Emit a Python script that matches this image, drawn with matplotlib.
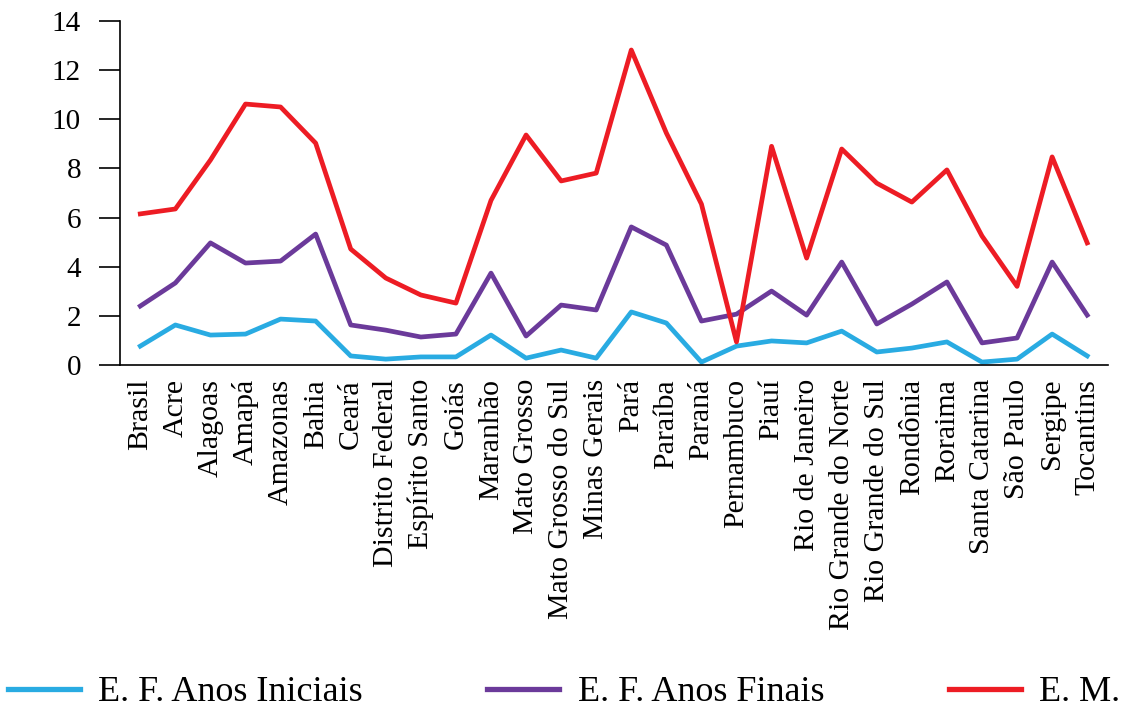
import matplotlib
matplotlib.use("Agg")
import matplotlib.pyplot as plt

plt.rcParams['font.family'] = ['Liberation Serif', 'DejaVu Serif']

estados = ['Brasil', 'Acre', 'Alagoas', 'Amapá', 'Amazonas', 'Bahia', 'Ceará',
           'Distrito Federal', 'Espírito Santo', 'Goiás', 'Maranhão', 'Mato Grosso',
           'Mato Grosso do Sul', 'Minas Gerais', 'Pará', 'Paraíba', 'Paraná',
           'Pernambuco', 'Piauí', 'Rio de Janeiro', 'Rio Grande do Norte',
           'Rio Grande do Sul', 'Rondônia', 'Roraima', 'Santa Catarina',
           'São Paulo', 'Sergipe', 'Tocantins']

anos_iniciais = [0.77, 1.63, 1.22, 1.26, 1.87, 1.79, 0.37, 0.24, 0.33, 0.33, 1.22,
                 0.28, 0.61, 0.28, 2.16, 1.71, 0.12, 0.77, 0.98, 0.90, 1.38, 0.53,
                 0.69, 0.94, 0.12, 0.24, 1.26, 0.37]
anos_finais = [2.40, 3.34, 4.97, 4.15, 4.23, 5.33, 1.63, 1.42, 1.14, 1.26, 3.74,
               1.18, 2.44, 2.24, 5.62, 4.88, 1.79, 2.07, 3.01, 2.03, 4.19, 1.67,
               2.48, 3.38, 0.90, 1.10, 4.19, 2.03]
ensino_medio = [6.15, 6.35, 8.34, 10.62, 10.50, 9.03, 4.72, 3.54, 2.85, 2.52, 6.70,
                9.36, 7.49, 7.81, 12.82, 9.44, 6.55, 0.94, 8.90, 4.35, 8.79, 7.40,
                6.63, 7.94, 5.25, 3.20, 8.47, 4.97]

fig = plt.figure(figsize=(11.21, 7.11), dpi=100)
ax = fig.add_axes([0.107, 0.4866, 0.881, 0.4839])

x = range(len(estados))
ax.plot(x, anos_iniciais, color='#29ABE2', lw=3.4, label='E. F. Anos Iniciais')
ax.plot(x, anos_finais, color='#6B3A9A', lw=3.4, label='E. F. Anos Finais')
ax.plot(x, ensino_medio, color='#ED1C24', lw=3.4, label='E. M.')

ax.set_xlim(-0.58, len(estados) - 1 + 0.58)
ax.set_ylim(0, 14)
ax.set_yticks(range(0, 15, 2))
ax.set_xticks(list(x))
ax.set_xticklabels(estados, rotation=90, fontsize=21.5)
ax.tick_params(axis='y', labelsize=21, length=15, width=1.2, pad=13)
ax.tick_params(axis='x', length=0, pad=10)
for s in ['top', 'right']:
    ax.spines[s].set_visible(False)
ax.spines['left'].set_linewidth(1.2)
ax.spines['bottom'].set_linewidth(1.2)

fig.legend(loc='center', bbox_to_anchor=(0.503, 0.026), ncol=3, frameon=False,
           fontsize=26, handlelength=2.0, handletextpad=0.5, columnspacing=3.45,
           borderpad=0, borderaxespad=0)
for h in fig.legends[0].get_lines():
    h.set_linewidth(3.8)

fig.savefig('out.png', dpi=100)
